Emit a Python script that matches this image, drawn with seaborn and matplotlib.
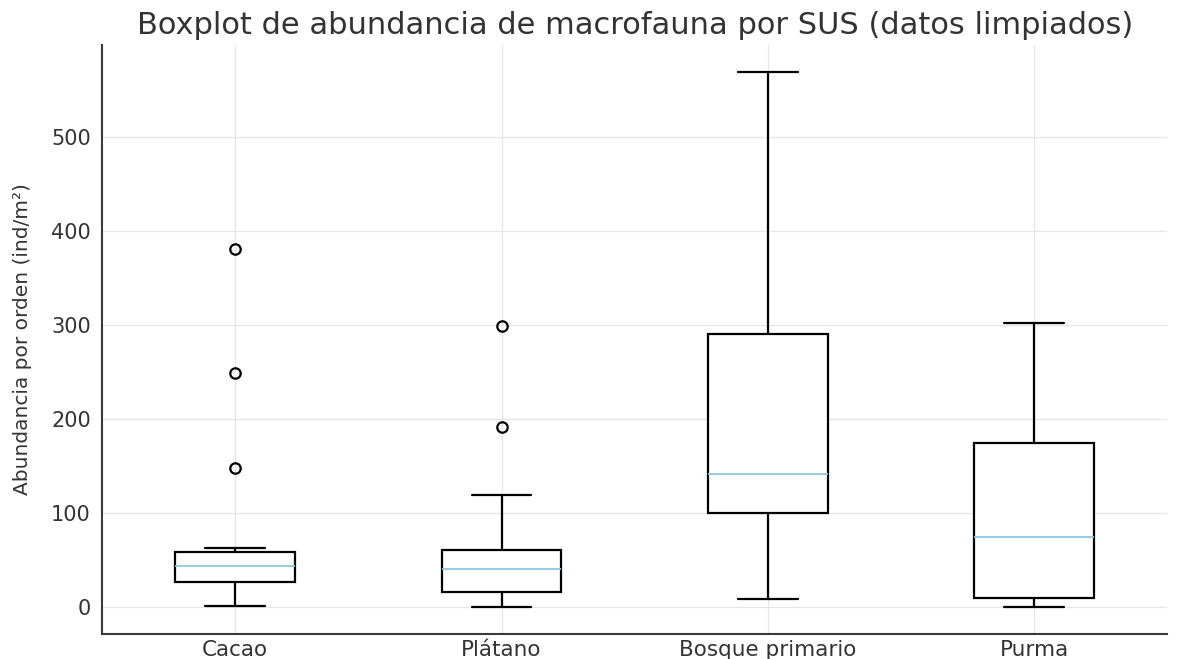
import pandas as pd
import numpy as np
import matplotlib.pyplot as plt
import seaborn as sns

# abundance per order (ind/m2) for each SUS, read back from the box stats
cacao = [1, 8, 15, 22, 27, 32, 36, 40, 44, 48, 52, 56, 59, 63, 148, 249, 381]
platano = [0, 5, 10, 16, 24, 32, 40, 47, 55, 61, 119, 191, 299]
bosque = [9, 45, 80, 100, 115, 130, 141, 170, 220, 290, 380, 470, 569]
purma = [0, 3, 6, 10, 30, 55, 74, 95, 130, 174, 220, 260, 302]

categories = ['Cacao', 'Plátano', 'Bosque primario', 'Purma']
values = [cacao, platano, bosque, purma]

rows = []
for cat, vals in zip(categories, values):
    for v in vals:
        rows.append({'SUS': cat, 'abundancia': v})
df = pd.DataFrame(rows)

sns.set_style('white')
plt.rcParams['font.family'] = ['DejaVu Sans']

fig = plt.figure(figsize=(11.93, 6.59), dpi=100)
ax = fig.add_axes([0.0855, 0.038, 0.893, 0.894])

sns.boxplot(data=df, x='SUS', y='abundancia', order=categories, ax=ax,
            width=0.45, color='white', linecolor='black', linewidth=1.6,
            medianprops={'color': '#8ec8de', 'linewidth': 1.3},
            flierprops={'marker': 'o', 'markerfacecolor': 'none',
                        'markeredgecolor': 'black', 'markersize': 7.5,
                        'markeredgewidth': 1.6},
            whis=1.5)

ax.grid(True, color='#e6e6e6', linewidth=0.9)
ax.set_axisbelow(True)
sns.despine(ax=ax)
for s in ['left', 'bottom']:
    ax.spines[s].set_color('#3a3a3a')
    ax.spines[s].set_linewidth(1.5)

ax.set_ylim(-28.5, 597.5)
ax.set_xlim(-0.5, 3.5)
ax.set_yticks([0, 100, 200, 300, 400, 500])
ax.tick_params(axis='y', direction='out', length=5, width=1, color='#3a3a3a',
               labelsize=15, labelcolor='#333333', pad=3)
ax.tick_params(axis='x', direction='out', length=3, width=1, color='#3a3a3a',
               labelsize=15.5, labelcolor='#333333', pad=1)
ax.set_xlabel('')
ax.set_ylabel('Abundancia por orden (ind/m²)', fontsize=14.5,
              color='#333333', labelpad=14)
ax.set_title('Boxplot de abundancia de macrofauna por SUS (datos limpiados)',
             fontsize=22, color='#333333', pad=8)

fig.savefig('out.png', dpi=100)
